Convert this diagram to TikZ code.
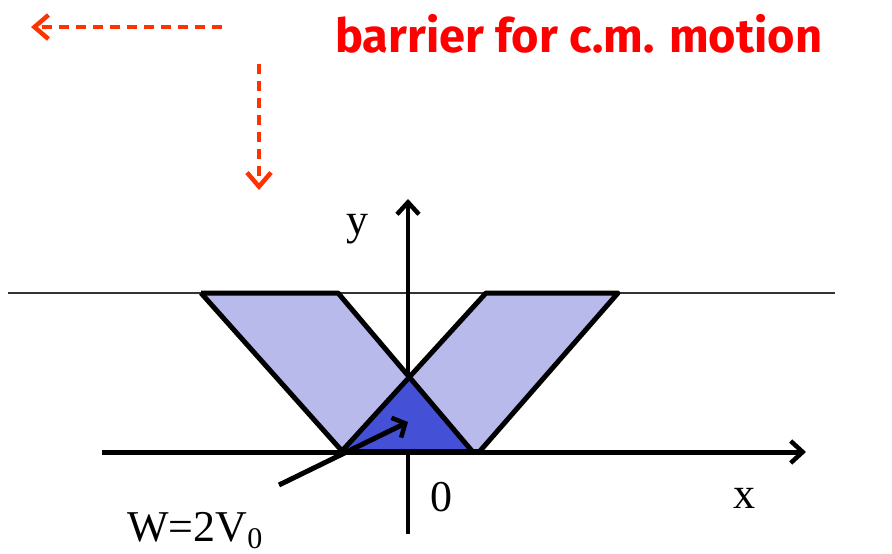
\documentclass[tikz,border=0pt]{standalone}
\usepackage{fontspec}
\setmainfont{Liberation Serif}
\newfontfamily\redfont{Fira Sans}
\usetikzlibrary{arrows.meta}
\definecolor{dashred}{HTML}{FF3300}
\definecolor{lightblue}{HTML}{B8BAEC}
\definecolor{darkblue}{HTML}{4450D5}
\begin{document}
\begin{tikzpicture}[x=1pt,y=-1pt,
  axisline/.style={-{Straight Barb[length=12pt,width=22pt,line width=4.5pt]}},
  outline/.style={line width=5pt,line join=round},
  dasharrow/.style={dashred,line width=3.5pt,dash pattern=on 10pt off 7pt,-{Straight Barb[length=14pt,width=24pt,line width=4.5pt]}},
  lbl/.style={font=\fontsize{44}{48}\selectfont,inner sep=0pt}]
\useasboundingbox (0,0) rectangle (892,554);
% coordinates
\coordinate (hl) at (8,293); \coordinate (hr) at (835,293);
\coordinate (xl) at (102,452); \coordinate (xr) at (806,452);
\coordinate (yb) at (408,534); \coordinate (yt) at (408,199);
\coordinate (L1) at (201,293); \coordinate (L2) at (338,293);
\coordinate (L3) at (472,451); \coordinate (L4) at (342,451);
\coordinate (R1) at (486,293); \coordinate (R2) at (618,293);
\coordinate (R3) at (480,451);
\coordinate (A) at (409,377);
\coordinate (ws) at (279,485); \coordinate (we) at (408,422);
\coordinate (d1s) at (222,27); \coordinate (d1e) at (31,27);
\coordinate (d2s) at (259,64); \coordinate (d2e) at (259,190);
% thin line and axes
\draw[line width=1.2pt,black!80] (hl) -- (hr);
\draw[axisline,line width=5pt] (xl) -- (xr);
\draw[axisline,line width=4pt] (yb) -- (yt);
% fills
\fill[lightblue] (L1) -- (L2) -- (L3) -- (L4) -- cycle;
\fill[lightblue] (R1) -- (R2) -- (R3) -- (L4) -- cycle;
\fill[darkblue] (L4) -- (A) -- (L3) -- cycle;
% outlines
\draw[outline] (L1) -- (L2) -- (L3);
\draw[outline] (L4) -- (L1);
\draw[outline] (L4) -- (R1) -- (R2) -- (R3);
\draw[outline] (L4) -- (R3);
% arrow W
\draw[line width=5pt,-{Straight Barb[length=10pt,width=22pt,line width=4.5pt]}] (ws) -- (we);
% dashed arrows
\draw[dasharrow] (d1s) -- (d1e);
\draw[dasharrow] (d2s) -- (d2e);
% labels
\node[lbl] (ylab) at (357,229) {y};
\node[lbl] (zero) at (441,497) {0};
\node[lbl] (xlab) at (744,498) {x};
\node[lbl,anchor=base west] (wlab) at (127,541) {W=2V\raisebox{-7pt}{\fontsize{30}{32}\selectfont 0}};
\node[inner sep=0pt,text=red,font=\redfont\bfseries\fontsize{47}{50}\selectfont,anchor=base west] (title) at (335,52) {barrier for c.m. motion};
\end{tikzpicture}
\end{document}
